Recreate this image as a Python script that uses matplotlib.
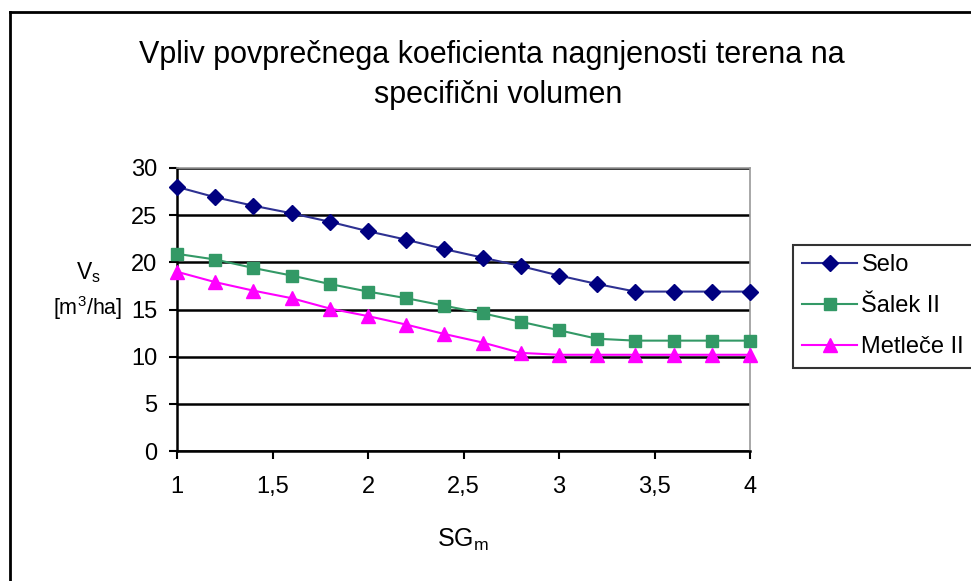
import matplotlib.pyplot as plt
from matplotlib.lines import Line2D
from matplotlib.ticker import FuncFormatter
import numpy as np

plt.rcParams['font.family'] = ['Liberation Sans', 'DejaVu Sans']

sg_m = [1.0, 1.2, 1.4, 1.6, 1.8, 2.0, 2.2, 2.4, 2.6, 2.8, 3.0, 3.2, 3.4, 3.6, 3.8, 4.0]
selo = [28.0, 26.9, 26.0, 25.2, 24.3, 23.3, 22.4, 21.4, 20.5, 19.6, 18.6, 17.7, 16.9, 16.9, 16.9, 16.9]
salek = [20.9, 20.3, 19.4, 18.6, 17.7, 16.9, 16.2, 15.4, 14.6, 13.7, 12.8, 11.9, 11.7, 11.7, 11.7, 11.7]
metlece = [19.0, 17.9, 17.0, 16.2, 15.1, 14.3, 13.4, 12.4, 11.5, 10.4, 10.2, 10.2, 10.2, 10.2, 10.2, 10.2]
names = ["Selo", "Šalek II", "Metleče II"]
x_ticks = [1, 1.5, 2, 2.5, 3, 3.5, 4]
y_ticks = [0, 5, 10, 15, 20, 25, 30]

W, H = 971, 581
fig = plt.figure(figsize=(W / 100, H / 100), dpi=100)
ax = fig.add_axes([177 / W, 1 - 451 / H, 573 / W, 283 / H])

ax.plot(sg_m, selo, color='#2e3192', marker='D', markersize=8.5,
        markerfacecolor='#000080', markeredgecolor='#000080', lw=1.5, label=names[0], clip_on=False, zorder=3)
ax.plot(sg_m, salek, color='#339966', marker='s', markersize=8.5,
        markerfacecolor='#339966', markeredgecolor='#339966', lw=1.5, label=names[1], clip_on=False, zorder=3)
ax.plot(sg_m, metlece, color='#ff00ff', marker='^', markersize=10.5,
        markerfacecolor='#ff00ff', markeredgecolor='#ff00ff', lw=1.5, label=names[2], clip_on=False, zorder=3)

ax.set_xlim(1, 4)
ax.set_ylim(0, 30)
ax.set_xticks(x_ticks)
ax.set_yticks(y_ticks)
ax.xaxis.set_major_formatter(FuncFormatter(lambda v, p: f"{v:g}".replace('.', ',')))
ax.tick_params(axis='both', direction='out', length=6, width=1.5, labelsize=17, colors='black')
ax.tick_params(axis='x', pad=12)
ax.tick_params(axis='y', pad=8)
ax.yaxis.grid(True, color='black', lw=1.8)
ax.set_axisbelow(True)
for s in ['top', 'right']:
    ax.spines[s].set_color('#999999')
    ax.spines[s].set_linewidth(1.2)
for s in ['left', 'bottom']:
    ax.spines[s].set_color('black')
    ax.spines[s].set_linewidth(1.8)

fig.text(492 / W, 1 - 55 / H, "Vpliv povprečnega koeficienta nagnjenosti terena na",
         ha='center', va='center', fontsize=22)
fig.text(498 / W, 1 - 95 / H, "specifični volumen", ha='center', va='center', fontsize=22)
fig.text(88 / W, 1 - 279 / H, "V$_\\mathregular{s}$", ha='center', va='baseline', fontsize=16.5)
fig.text(88 / W, 1 - 315 / H, "[m$^\\mathregular{3}$/ha]", ha='center', va='baseline', fontsize=15.5)
fig.text(463 / W, 1 - 547 / H, "SG$_\\mathregular{m}$", ha='center', va='baseline', fontsize=18)

leg = ax.legend(loc='upper left', bbox_to_anchor=(793 / W, 1 - 245 / H),
                bbox_transform=fig.transFigure, fontsize=17, frameon=True,
                fancybox=False, borderpad=0.4, labelspacing=0.8, handlelength=2.3,
                handletextpad=0.2, borderaxespad=0)
leg.get_frame().set_edgecolor('black')
leg.get_frame().set_linewidth(1.5)

# outer chart border (only left and top visible)
fig.add_artist(Line2D([10 / W, 10 / W], [0, 1 - 12 / H], transform=fig.transFigure, color='black', lw=2))
fig.add_artist(Line2D([10 / W, 1], [1 - 12 / H, 1 - 12 / H], transform=fig.transFigure, color='black', lw=2))

fig.savefig('out.png', dpi=100)
